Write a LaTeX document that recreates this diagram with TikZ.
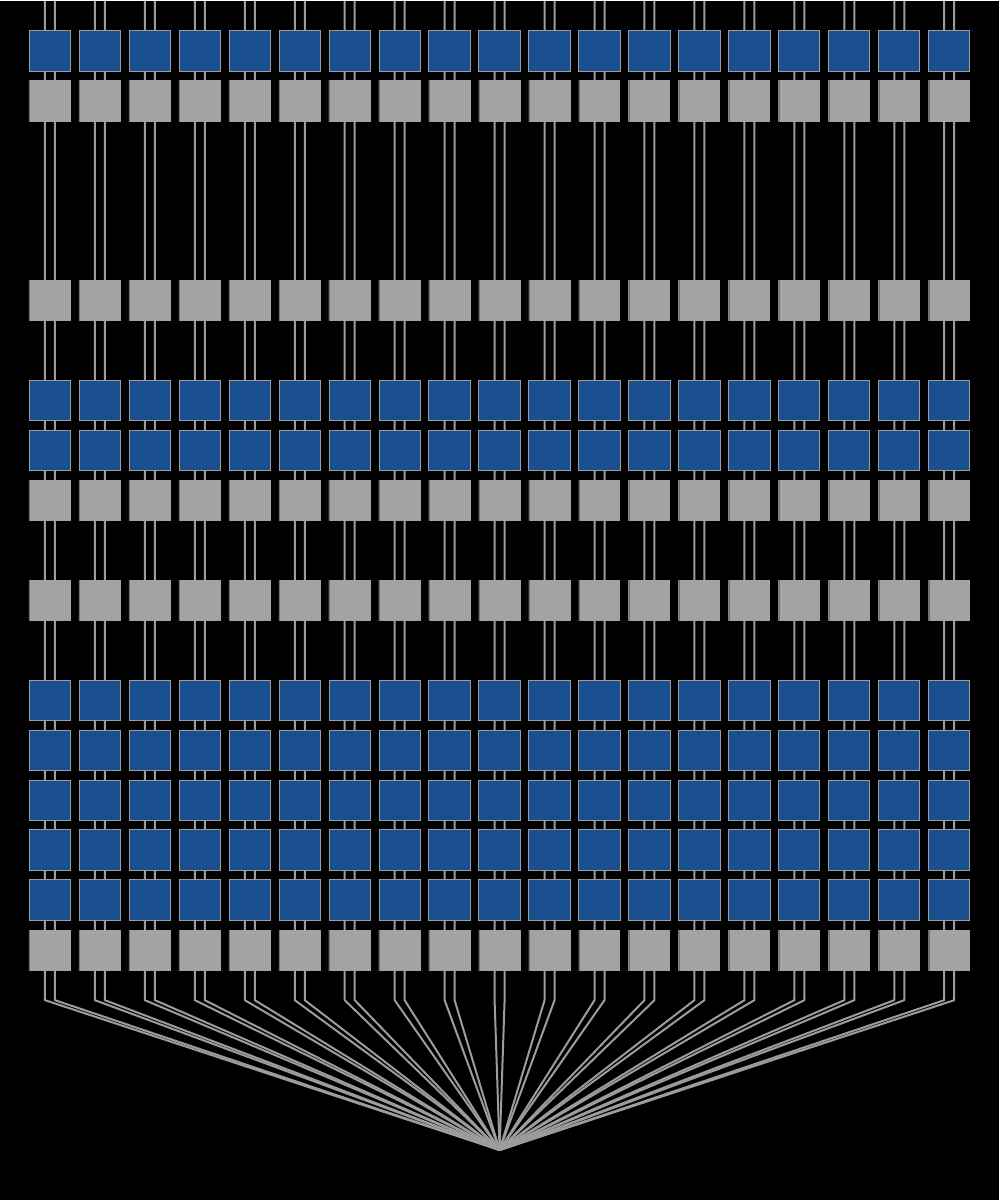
\documentclass[tikz,border=0pt]{standalone}
\usepackage{tikz}
\tikzset{every picture/.style={line width=0.75pt}}
\definecolor{boxblue}{HTML}{1A4F8F}
\definecolor{boxgray}{HTML}{A3A3A3}
\definecolor{boxedge}{HTML}{727272}
\definecolor{wiregray}{HTML}{9C9C9C}
\tikzset{
  bluebox/.style={draw=wiregray, line width=0.75pt, fill=boxblue, inner sep=0pt,
    minimum width=31pt, minimum height=30.5pt},
  graybox/.style={fill=boxgray, inner sep=0pt, minimum width=31.5pt, minimum height=31pt,
    path picture={\draw[boxedge, line width=2.25pt] (path picture bounding box.north west) -- (path picture bounding box.south west);}},
  wire/.style={draw=wiregray, line width=1.5pt, line join=round}
}

\begin{document}
\begin{tikzpicture}[x=0.75pt,y=0.75pt,yscale=-1,xscale=1]
\fill[black] (0,0) rectangle (1000,1200);
% meeting point of all wires
\coordinate (hub) at (500,1150);
% two wires per column, bent to the hub below the last row
\foreach \k in {0,...,18} {
  \coordinate (topl-\k) at ({45+50*\k},0);
  \coordinate (topr-\k) at ({55+50*\k},0);
  \coordinate (bendl-\k) at ({45+50*\k},1000);
  \coordinate (bendr-\k) at ({55+50*\k},1000);
  \draw[wire] (topl-\k) -- (bendl-\k) -- (hub);
  \draw[wire] (topr-\k) -- (bendr-\k) -- (hub);
}
% rows of boxes
\foreach \y/\kind [count=\r] in {50/bluebox,100/graybox,300/graybox,400/bluebox,450/bluebox,500/graybox,600/graybox,700/bluebox,750/bluebox,800/bluebox,850/bluebox,900/bluebox,950/graybox} {
  \foreach \k in {0,...,18}
    \node[\kind] (box-\r-\k) at ({50+50*\k},\y) {};
}
\end{tikzpicture}
\end{document}
